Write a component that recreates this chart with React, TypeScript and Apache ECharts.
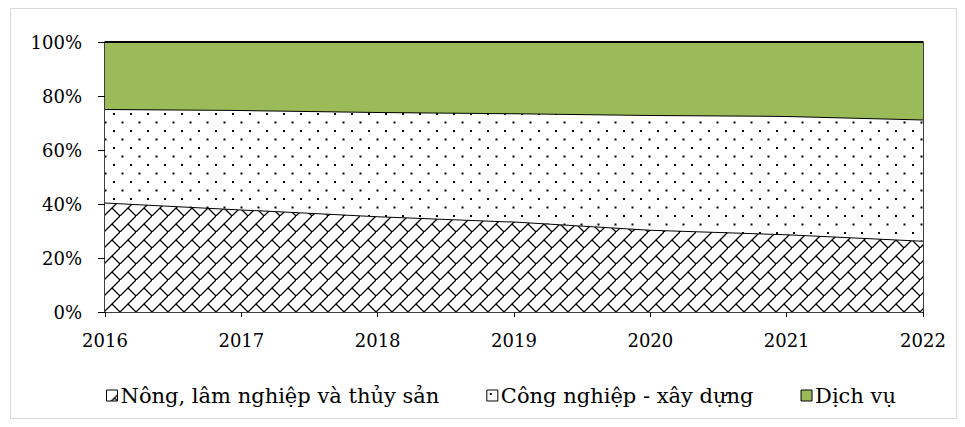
import React, { useEffect, useRef } from "react";
import * as echarts from "echarts";

const years = ["2016", "2017", "2018", "2019", "2020", "2021", "2022"];
const agriculture = [40.6, 38.0, 35.5, 33.5, 30.5, 28.8, 26.4];
const industry = [34.6, 36.8, 38.6, 40.1, 42.5, 43.8, 44.9];
const services = [24.8, 25.2, 25.9, 26.4, 27.0, 27.4, 28.7];
const seriesNames = ["Nông, lâm nghiệp và thủy sản", "Công nghiệp - xây dựng", "Dịch vụ"];
const yTicks = [0, 20, 40, 60, 80, 100];

function brickPattern(): HTMLCanvasElement {
  const s = 16;
  const c = document.createElement("canvas");
  c.width = s;
  c.height = s;
  const ctx = c.getContext("2d")!;
  ctx.fillStyle = "#ffffff";
  ctx.fillRect(0, 0, s, s);
  ctx.strokeStyle = "#000000";
  ctx.lineWidth = 1.3;
  ctx.beginPath();
  ctx.moveTo(-1, s + 1);
  ctx.lineTo(s + 1, -1);
  ctx.moveTo(s / 2, s / 2);
  ctx.lineTo(s + 1, s + 1);
  ctx.stroke();
  return c;
}

function dotPattern(): HTMLCanvasElement {
  const s = 17;
  const c = document.createElement("canvas");
  c.width = s;
  c.height = s;
  const ctx = c.getContext("2d")!;
  ctx.fillStyle = "#ffffff";
  ctx.fillRect(0, 0, s, s);
  ctx.fillStyle = "#000000";
  ctx.fillRect(3, 3, 2, 2);
  ctx.fillRect(11.5, 11.5, 2, 2);
  return c;
}

export default function App() {
  const ref = useRef<HTMLDivElement>(null);
  useEffect(() => {
    if (!ref.current) return;
    const chart = echarts.init(ref.current, null, { renderer: "svg" });
    const brick = { image: brickPattern(), repeat: "repeat" } as any;
    const dots = { image: dotPattern(), repeat: "repeat" } as any;
    const green = "#9BBB59";
    const font = "DejaVu Serif";
    const fills = [brick, dots, green];
    const datas = [agriculture, industry, services];
    chart.setOption({
      animation: false,
      backgroundColor: "#ffffff",
      textStyle: { fontFamily: font, color: "#000" },
      graphic: [
        {
          type: "rect",
          shape: { x: 2.5, y: 0.5, width: 946, height: 410 },
          style: { fill: "none", stroke: "#d9d9d9", lineWidth: 1 },
          silent: true,
          z: -10,
        },
      ],
      grid: { left: 97, right: 34, top: 34, bottom: 107, containLabel: false },
      legend: {
        bottom: 8,
        left: 93,
        itemWidth: 11,
        itemHeight: 11,
        itemGap: 47,
        icon: "rect",
        textStyle: { fontFamily: font, fontSize: 21, color: "#000", padding: [0, 0, 0, -2] },
        data: seriesNames.map((n, i) => ({
          name: n,
          itemStyle: { color: fills[i], borderColor: "#000", borderWidth: 1 },
        })),
      },
      xAxis: {
        type: "category",
        data: years,
        boundaryGap: false,
        axisLine: { lineStyle: { color: "#000", width: 1.5 } },
        axisTick: { show: true, inside: false, length: 5, lineStyle: { color: "#000" } },
        axisLabel: { fontFamily: font, fontSize: 18, color: "#000", margin: 19 },
        splitLine: { show: false },
      },
      yAxis: [
        {
          type: "value",
          min: 0,
          max: 100,
          interval: 20,
          axisLine: { show: true, lineStyle: { color: "#000", width: 1.5 } },
          axisTick: { show: true, inside: false, length: 7, lineStyle: { color: "#000" } },
          axisLabel: {
            fontFamily: font,
            fontSize: 18,
            color: "#000",
            margin: 23,
            formatter: (v: number) => (yTicks.includes(v) ? v + "%" : ""),
          },
          splitLine: { show: false },
        },
        {
          type: "value",
          position: "right",
          min: 0,
          max: 100,
          interval: 20,
          axisLine: { show: true, lineStyle: { color: "#000", width: 1.5 } },
          axisTick: { show: false },
          axisLabel: { show: false },
          splitLine: { show: false },
        },
      ],
      series: seriesNames.map((n, i) => ({
        name: n,
        type: "line",
        stack: "total",
        data: datas[i],
        symbol: "none",
        yAxisIndex: 0,
        lineStyle: { color: "#000", width: 2 },
        itemStyle: { color: fills[i] },
        areaStyle: { color: fills[i], opacity: 1 },
        z: 2 + i,
      })),
    });
    return () => chart.dispose();
  }, []);
  return <div ref={ref} style={{ width: 949, height: 411 }} />;
}
